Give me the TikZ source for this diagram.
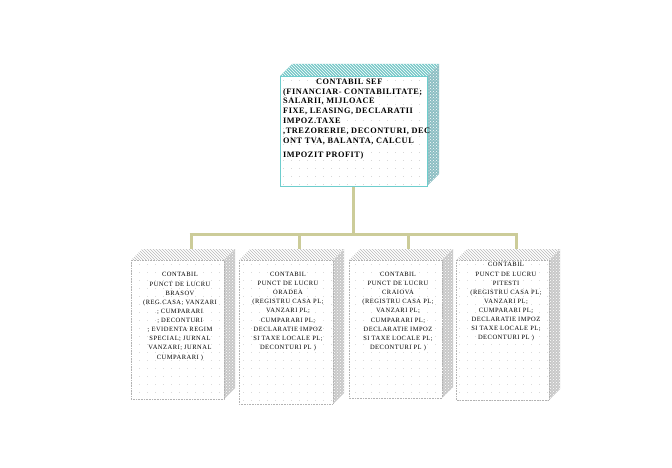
\documentclass[tikz,border=0pt]{standalone}
\usepackage{fontspec}
\setmainfont{Liberation Serif}
\newfontfamily\topfont[LetterSpace=6.5]{Liberation Serif}
\newfontfamily\botfont[LetterSpace=7.5]{Liberation Serif}
\usetikzlibrary{patterns}
\pgfdeclarepatternformonly{sparsedots}{\pgfpointorigin}{\pgfqpoint{8pt}{8pt}}{\pgfqpoint{8pt}{8pt}}{\pgfpathcircle{\pgfqpoint{4pt}{4pt}}{0.45pt}\pgfusepath{fill}}
\definecolor{tealedge}{RGB}{110,205,205}
\definecolor{tealtop}{RGB}{120,200,200}
\definecolor{tealside}{RGB}{140,190,195}
\definecolor{greyside}{RGB}{200,200,200}
\definecolor{conncol}{RGB}{204,204,153}
\tikzset{
  conn/.style={draw=conncol, line width=3pt},
  toptext/.style={inner sep=0pt, anchor=north west, align=left, font=\topfont\fontsize{8.3}{9.9}\selectfont\bfseries},
  bottext/.style={inner sep=0pt, anchor=north, align=center, font=\botfont\fontsize{6.5}{9.1}\selectfont},
}
% #1 x1, #2 y1, #3 x2, #4 y2, #5 depth, #6 = t (teal) or g (grey)
\newcommand\mycuboid[6]{%
  \ifx t#6
    \fill[white] (#1,#2) rectangle (#3,#4);
    \fill[pattern=sparsedots, pattern color=gray!55] (#1,#2) rectangle (#3,#4);
    \fill[tealtop] (#1,#2) -- ({#1+#5},{#2-#5}) -- ({#3+#5},{#2-#5}) -- (#3,#2) -- cycle;
    \fill[pattern=north west lines, pattern color=white] (#1,#2) -- ({#1+#5},{#2-#5}) -- ({#3+#5},{#2-#5}) -- (#3,#2) -- cycle;
    \fill[tealside] (#3,#2) -- ({#3+#5},{#2-#5}) -- ({#3+#5},{#4-#5}) -- (#3,#4) -- cycle;
    \fill[pattern=crosshatch dots, pattern color=white] (#3,#2) -- ({#3+#5},{#2-#5}) -- ({#3+#5},{#4-#5}) -- (#3,#4) -- cycle;
    \draw[tealedge, line width=0.8pt] (#1,#2) rectangle (#3,#4);
  \else
    \fill[white] (#1,#2) rectangle (#3,#4);
    \fill[pattern=sparsedots, pattern color=gray!50] (#1,#2) rectangle (#3,#4);
    \fill[white] (#1,#2) -- ({#1+#5},{#2-#5}) -- ({#3+#5},{#2-#5}) -- (#3,#2) -- cycle;
    \fill[pattern=north west lines, pattern color=gray!55] (#1,#2) -- ({#1+#5},{#2-#5}) -- ({#3+#5},{#2-#5}) -- (#3,#2) -- cycle;
    \fill[greyside] (#3,#2) -- ({#3+#5},{#2-#5}) -- ({#3+#5},{#4-#5}) -- (#3,#4) -- cycle;
    \fill[pattern=crosshatch dots, pattern color=white] (#3,#2) -- ({#3+#5},{#2-#5}) -- ({#3+#5},{#4-#5}) -- (#3,#4) -- cycle;
    \draw[gray!60, densely dotted, line width=0.6pt] (#1,#2) rectangle (#3,#4);
  \fi
}
\begin{document}
\begin{tikzpicture}[x=1pt,y=-1pt]
\useasboundingbox (0,0) rectangle (672,468);
% connectors
\coordinate (sefbot) at (353,186);
\coordinate (hub) at (353,234);
\coordinate (hl) at (191,234);
\coordinate (hr) at (516,234);
\coordinate (h2) at (299,234);
\coordinate (h3) at (408,234);
\coordinate (t1) at (191,249);
\coordinate (t2) at (299,249);
\coordinate (t3) at (408,249);
\coordinate (t4) at (516,249);
\draw[conn] (sefbot) -- (hub);
\draw[conn] ([xshift=-1.5pt]hl) -- ([xshift=1.5pt]hr);
\draw[conn] (hl) -- (t1);
\draw[conn] (h2) -- (t2);
\draw[conn] (h3) -- (t3);
\draw[conn] (hr) -- (t4);
% boxes
\mycuboid{280}{76}{427}{186}{12}{t}
\mycuboid{131}{260}{224}{399}{11}{g}
\mycuboid{239}{260}{333}{404}{11}{g}
\mycuboid{349}{260}{442}{398}{11}{g}
\mycuboid{456}{260}{549}{400}{11}{g}
% texts
\node[toptext] (sef) at (283,78.5) {\makebox[132pt]{CONTABIL SEF}\\
(FINANCIAR- CONTABILITATE;\\
SALARII, MIJLOACE\\
FIXE, LEASING, DECLARATII\\
IMPOZ.TAXE\\
,TREZORERIE, DECONTURI, DEC\\
ONT TVA, BALANTA, CALCUL\\[4pt]
IMPOZIT PROFIT)};
\node[bottext] (bv) at (180,272.4) {CONTABIL\\
PUNCT DE LUCRU\\
BRASOV\\
(REG.CASA; VANZARI\\
; CUMPARARI\\
; DECONTURI\\
; EVIDENTA REGIM\\
SPECIAL; JURNAL\\
VANZARI; JURNAL\\[1pt]
CUMPARARI )};
\node[bottext] (or) at (288,272) {CONTABIL\\
PUNCT DE LUCRU\\
ORADEA\\
(REGISTRU CASA PL;\\
VANZARI PL;\\
CUMPARARI PL;\\
DECLARATIE IMPOZ\\
SI TAXE LOCALE PL;\\
DECONTURI PL )};
\node[bottext] (cv) at (398,272) {CONTABIL\\
PUNCT DE LUCRU\\
CRAIOVA\\
(REGISTRU CASA PL;\\
VANZARI PL;\\
CUMPARARI PL;\\
DECLARATIE IMPOZ\\
SI TAXE LOCALE PL;\\
DECONTURI PL )};
\node[bottext] (pi) at (506,262.4) {CONTABIL\\
PUNCT DE LUCRU\\
PITESTI\\
(REGISTRU CASA PL;\\
VANZARI PL;\\
CUMPARARI PL;\\
DECLARATIE IMPOZ\\
SI TAXE LOCALE PL;\\
DECONTURI PL )};
\end{tikzpicture}
\end{document}
